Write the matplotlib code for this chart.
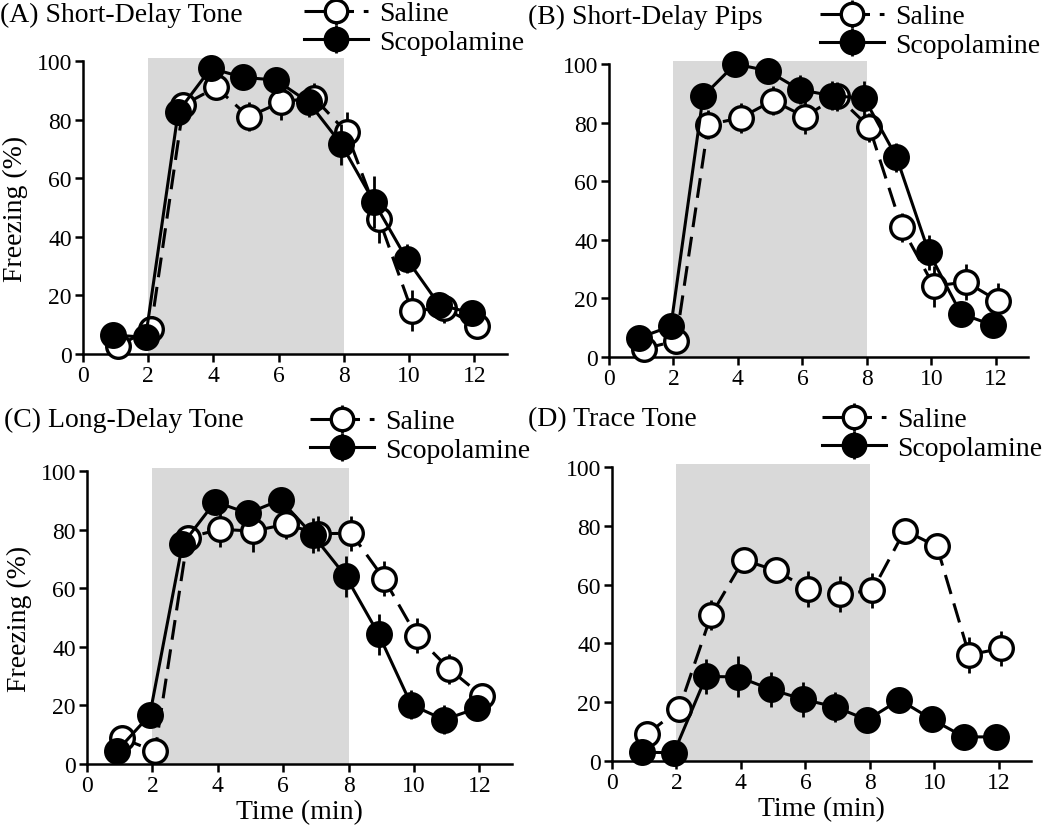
import matplotlib
matplotlib.use("Agg")
import matplotlib.pyplot as plt
import numpy as np

plt.rcParams['font.family'] = ['Liberation Serif', 'DejaVu Serif']

minutes = [1, 2, 3, 4, 5, 6, 7, 8, 9, 10, 11, 12]
x_ticks = [0, 2, 4, 6, 8, 10, 12]
y_ticks = [0, 20, 40, 60, 80, 100]

titles = ["(A) Short-Delay Tone", "(B) Short-Delay Pips",
          "(C) Long-Delay Tone", "(D) Trace Tone"]

saline_A = [2.9, 8.5, 85, 91, 81, 86, 87.5, 75.6, 46, 14.8, 15.6, 9.7]
saline_A_err = [1, 2, 3, 4, 5, 6, 5, 7, 8, 7, 5, 2]
scop_A = [6.5, 5.7, 82.7, 97.5, 94.4, 93.5, 85.9, 71.6, 51.9, 32.5, 16.8, 14]
scop_A_err = [1, 1, 2, 2, 2, 3, 5, 7, 9, 5, 3, 2]

saline_B = [2.8, 5.5, 79.3, 81.6, 87.5, 82, 89, 78.4, 44.3, 24.2, 25.6, 19.1]
saline_B_err = [1, 1, 5, 5, 5, 6, 5, 5, 5, 7, 6, 6]
scop_B = [6.5, 10.5, 89, 100, 97.7, 91.2, 89.2, 88.3, 68.2, 35.8, 14.8, 10.8]
scop_B_err = [1, 2, 2, 1, 2, 5, 5, 6, 5, 6, 4, 2]

saline_C = [8.75, 4.3, 77.3, 80.1, 79.5, 81.8, 78.6, 78.75, 63.3, 43.75, 32.4, 23.3]
saline_C_err = [1, 2, 4, 6, 7, 5, 6, 6, 6, 6, 5, 3]
scop_C = [4.5, 16.7, 75, 89.5, 85.6, 90.1, 78, 64, 44.3, 20.2, 15.1, 19]
scop_C_err = [1, 2, 2, 2, 2, 4, 6, 7, 7, 5, 5, 4]

saline_D = [9.1, 17.6, 49.7, 68.4, 64.8, 58.5, 56.8, 58, 78.4, 73, 36.1, 38.3]
saline_D_err = [1, 4, 5, 4, 4, 6, 6, 6, 4, 4, 6, 6]
scop_D = [3, 2.8, 28.75, 28.6, 24.4, 21, 18.4, 14, 20.8, 14.2, 8.2, 8.2]
scop_D_err = [1, 1, 6, 7, 6, 6, 5, 4, 2, 1, 1, 1]

saline_all = [saline_A, saline_B, saline_C, saline_D]
saline_err_all = [saline_A_err, saline_B_err, saline_C_err, saline_D_err]
scop_all = [scop_A, scop_B, scop_C, scop_D]
scop_err_all = [scop_A_err, scop_B_err, scop_C_err, scop_D_err]

tone_start, tone_end = 2, 8

W, H = 1050, 829
fig = plt.figure(figsize=(W / 100, H / 100), dpi=100)

# axes boxes in pixels: left, right(at x=13), top, bottom
boxes = [(83, 507, 62, 355), (609, 1028, 65, 358),
         (87, 512, 472, 765), (612, 1031, 468, 762)]
title_pos = [(0, 15), (528, 17), (4, 420), (528, 420)]
legend_pos = [(304, 2), (820, 5), (310, 410), (822, 408)]

GRAY = '#d9d9d9'
LW = 2.2
for i, (l, r, t, b) in enumerate(boxes):
    ax = fig.add_axes([l / W, 1 - b / H, (r - l) / W, (b - t) / H])
    ax.set_xlim(0, 13)
    ax.set_ylim(0, 100)
    ax.axvspan(tone_start, tone_end, ymin=0, ymax=1.01, color=GRAY, lw=0,
               zorder=0, clip_on=False)
    xs = np.array(minutes, dtype=float)
    ax.errorbar(xs + 0.08, saline_all[i], yerr=saline_err_all[i], color='black',
                lw=LW, ls=(0, (6.5, 3.2)), marker='o', ms=17, mfc='white',
                mec='black', mew=2.4, ecolor='black', elinewidth=2, capsize=0,
                clip_on=False, zorder=3, label='Saline')
    ax.errorbar(xs - 0.08, scop_all[i], yerr=scop_err_all[i], color='black',
                lw=LW, ls='-', marker='o', ms=17, mfc='black',
                mec='black', mew=2.4, ecolor='black', elinewidth=2, capsize=0,
                clip_on=False, zorder=4, label='Scopolamine')
    for s in ['top', 'right']:
        ax.spines[s].set_visible(False)
    for s in ['left', 'bottom']:
        ax.spines[s].set_linewidth(1.8)
    ax.set_xticks(x_ticks)
    ax.set_yticks(y_ticks)
    ax.tick_params(axis='both', direction='out', width=1.8, length=6,
                   labelsize=17, pad=2)
    if i in (0, 2):
        ax.set_ylabel('Freezing (%)', fontsize=20, labelpad=6)
    if i in (2, 3):
        ax.set_xlabel('Time (min)', fontsize=20, labelpad=2)
    tx, ty = title_pos[i]
    fig.text(tx / W, 1 - ty / H, titles[i], fontsize=20, ha='left', va='center')
    lx, ly = legend_pos[i]
    ax.legend(loc='upper left', bbox_to_anchor=(lx / W, 1 - ly / H),
              bbox_transform=fig.transFigure, frameon=False, fontsize=20,
              handlelength=2.3, handletextpad=0.4, borderpad=0,
              labelspacing=0.1, borderaxespad=0, markerscale=0.95)

fig.savefig('out.png', dpi=100)
